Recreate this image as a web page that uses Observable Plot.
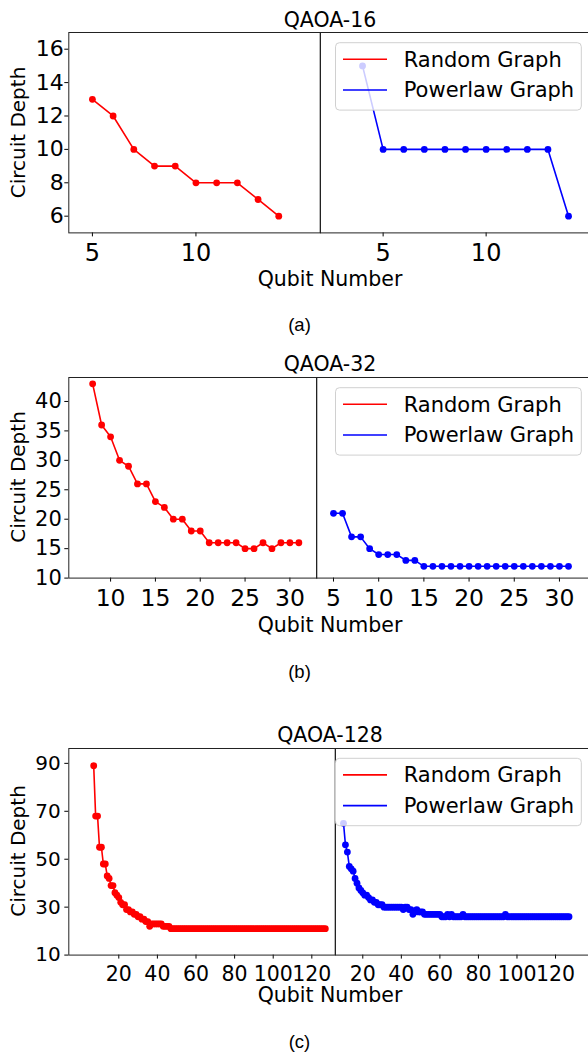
<!DOCTYPE html>
<html><head><meta charset="utf-8">
<script src="https://cdn.jsdelivr.net/npm/d3@7"></script>
<script src="https://cdn.jsdelivr.net/npm/@observablehq/plot@0.6"></script>
<style>
html,body{margin:0;padding:0;background:#fff;}
#page{position:relative;width:588px;height:1053px;overflow:hidden;background:#fff;}
#page svg{position:absolute;}
</style></head><body><div id="page"></div>
<script>
// ---------- DATA ----------
const seriesNames = ["Random Graph", "Powerlaw Graph"];
const seriesColors = ["#ff0000", "#0000ff"];

// (a) QAOA-16
const randA_qubits = [5, 6, 7, 8, 9, 10, 11, 12, 13, 14];
const randA_depth  = [13, 12, 10, 9, 9, 8, 8, 8, 7, 6];
const powA_qubits  = [4, 5, 6, 7, 8, 9, 10, 11, 12, 13, 14];
const powA_depth   = [15, 10, 10, 10, 10, 10, 10, 10, 10, 10, 6];

// (b) QAOA-32
const randB_qubits = d3.range(8, 32);
const randB_depth  = [43, 36, 34, 30, 29, 26, 26, 23, 22, 20, 20, 18, 18, 16, 16, 16, 16, 15, 15, 16, 15, 16, 16, 16];
const powB_qubits  = d3.range(5, 32);
const powB_depth   = [21, 21, 17, 17, 15, 14, 14, 14, 13, 13,
                      12, 12, 12, 12, 12, 12, 12, 12, 12, 12, 12, 12, 12, 12, 12, 12, 12];

// (c) QAOA-128
const randC_qubits = d3.range(7, 128);
const randC_depth  = [89, 68, 68,
  55, 55, 48, 48, 43, 42, 39, 39, 36, 35,
  34, 32, 31, 31, 29, 29, 28, 28, 27, 27,
  26, 26, 25, 25, 24, 24, 22, 23, 23, 23,
  23, 23, 23, 22, 22, 22, 22, 21, 21, 21,
  21, 21, 21, 21, 21, 21, 21, 21, 21, 21,
  21, 21, 21, 21, 21, 21, 21, 21, 21, 21,
  21, 21, 21, 21, 21, 21, 21, 21, 21, 21,
  21, 21, 21, 21, 21, 21, 21, 21, 21, 21,
  21, 21, 21, 21, 21, 21, 21, 21, 21, 21,
  21, 21, 21, 21, 21, 21, 21, 21, 21, 21,
  21, 21, 21, 21, 21, 21, 21, 21, 21, 21,
  21, 21, 21, 21, 21, 21, 21, 21];
const powC_qubits  = d3.range(10, 128);
const powC_depth   = [65, 56, 53, 47, 46, 45, 42, 40, 38, 37,
  36, 35, 35, 34, 33, 33, 32, 32, 31, 31,
  31, 30, 30, 30, 30, 30, 30, 30, 30, 30,
  30, 29, 30, 30, 29, 29, 27, 28, 29, 28,
  28, 28, 27, 27, 27, 27, 27, 27, 27, 27,
  27, 26, 26, 26, 27, 26, 27, 26, 26, 26,
  26, 26, 27, 26, 26, 26, 26, 26, 26, 26,
  26, 26, 26, 26, 26, 26, 26, 26, 26, 26,
  26, 26, 26, 26, 27, 26, 26, 26, 26, 26,
  26, 26, 26, 26, 26, 26, 26, 26, 26, 26,
  26, 26, 26, 26, 26, 26, 26, 26, 26, 26,
  26, 26, 26, 26, 26, 26, 26, 26];

const titles   = ["QAOA-16", "QAOA-32", "QAOA-128"];
const captions = ["(a)", "(b)", "(c)"];
const yTicksA = [6, 8, 10, 12, 14, 16];
const yTicksB = [10, 15, 20, 25, 30, 35, 40];
const yTicksC = [10, 30, 50, 70, 90];
const xTicksA = [5, 10];
const xTicksBL = [10, 15, 20, 25, 30];
const xTicksBR = [5, 10, 15, 20, 25, 30];
const xTicksC = [20, 40, 60, 80, 100, 120];

// ---------- LAYOUT ----------
const panels = [
  {title: titles[0], caption: captions[0], top: 32.3, bottom: 232.7, yDomain: [5, 17], yTicks: yTicksA,
   yFont: 22, xFont: 24, yPad: 1, titleY: 26.5, xLabelY: 286, captionY: 331.2, legendTop: 42.7,
   left:  {x0: 68.3,  x1: 319.7, domain: [3.86, 16.0], ticks: xTicksA, xs: randA_qubits, ys: randA_depth},
   right: {x0: 319.7, x1: 590,   domain: [1.96, 15.08], ticks: xTicksA, xs: powA_qubits, ys: powA_depth}},
  {title: titles[1], caption: captions[1], top: 376.7, bottom: 577.3, yDomain: [10, 44.07], yTicks: yTicksB,
   yFont: 21, xFont: 23.5, yPad: 3, titleY: 370.5, xLabelY: 631.5, captionY: 677.7, legendTop: 387.7,
   left:  {x0: 68.3,  x1: 316.3, domain: [5.34, 33.0], ticks: xTicksBL, xs: randB_qubits, ys: randB_depth},
   right: {x0: 316.3, x1: 590,   domain: [3.12, 33.4], ticks: xTicksBR, xs: powB_qubits, ys: powB_depth}},
  {title: titles[2], caption: captions[2], top: 747.7, bottom: 954.3, yDomain: [10, 96.2], yTicks: yTicksC,
   yFont: 20, xFont: 20.5, yPad: 4, titleY: 741.5, xLabelY: 1002, captionY: 1047.8, legendTop: 758.3,
   left:  {x0: 68.3,  x1: 334.7, domain: [-5.9, 132.1], ticks: xTicksC, xs: randC_qubits, ys: randC_depth},
   right: {x0: 334.7, x1: 590,   domain: [5.84, 138.3], ticks: xTicksC, xs: powC_qubits, ys: powC_depth}}
];

const page = document.getElementById("page");

function subplot(p, s, color, withY) {
  const mt = 12, mb = 50, mr = 10;
  const ml = withY ? s.x0 : 10;
  const data = s.xs.map((x, i) => ({x, y: s.ys[i]}));
  const svg = Plot.plot({
    width: (s.x1 - s.x0) + ml + mr,
    height: (p.bottom - p.top) + mt + mb,
    marginTop: mt, marginBottom: mb, marginLeft: ml, marginRight: mr,
    style: {background: "transparent", overflow: "visible", fontFamily: "DejaVu Sans", color: "#000"},
    x: {domain: s.domain},
    y: {domain: p.yDomain, axis: withY ? undefined : null},
    marks: [
      withY ? Plot.axisY({ticks: p.yTicks, tickSize: 4, tickPadding: p.yPad, fontSize: p.yFont, label: null}) : null,
      Plot.axisX({ticks: s.ticks, tickSize: 4, tickPadding: 7, fontSize: p.xFont, label: null}),
      Plot.line(data, {x: "x", y: "y", stroke: color, strokeWidth: 1.6}),
      Plot.dot(data, {x: "x", y: "y", r: 3.4, fill: color, stroke: "none"}),
      Plot.frame({stroke: "#222", strokeWidth: 1})
    ]
  });
  svg.style.left = (withY ? 0 : s.x0 - ml) + "px";
  svg.style.top = (p.top - mt) + "px";
  page.appendChild(svg);
}

panels.forEach(p => {
  subplot(p, p.left, seriesColors[0], true);
  subplot(p, p.right, seriesColors[1], false);
});

// ---------- TEXT / LEGEND OVERLAY ----------
const ov = d3.select(page).append("svg")
  .attr("width", 588).attr("height", 1053)
  .style("left", "0px").style("top", "0px")
  .style("pointer-events", "none");

panels.forEach(p => {
  ov.append("text").attr("x", 330).attr("y", p.titleY)
    .attr("text-anchor", "middle").attr("font-family", "DejaVu Sans").attr("font-size", 20.5)
    .attr("fill", "#000").text(p.title);
  ov.append("text").attr("x", 330).attr("y", p.xLabelY)
    .attr("text-anchor", "middle").attr("font-family", "DejaVu Sans").attr("font-size", 20.5)
    .attr("fill", "#000").text("Qubit Number");
  ov.append("text")
    .attr("transform", `translate(24.5,${(p.top + p.bottom) / 2}) rotate(-90)`)
    .attr("text-anchor", "middle").attr("font-family", "DejaVu Sans").attr("font-size", 20)
    .attr("fill", "#000").text("Circuit Depth");
  ov.append("text").attr("x", 299.5).attr("y", p.captionY)
    .attr("text-anchor", "middle").attr("font-family", "Liberation Sans, Arial, sans-serif").attr("font-size", 18.5)
    .attr("fill", "#000").text(p.caption);

  const g = ov.append("g").attr("transform", `translate(335.5,${p.legendTop})`);
  g.append("rect").attr("x", 0).attr("y", 0).attr("width", 245.8).attr("height", 67.4).attr("rx", 4)
    .attr("fill", "#fff").attr("fill-opacity", 0.8).attr("stroke", "#d0d0d0").attr("stroke-width", 1);
  seriesNames.forEach((name, i) => {
    const yy = 16.6 + i * 30.7;
    g.append("line").attr("x1", 7.5).attr("x2", 51.5).attr("y1", yy).attr("y2", yy)
      .attr("stroke", seriesColors[i]).attr("stroke-width", 1.6);
    g.append("text").attr("x", 68.2).attr("y", yy + 7.5)
      .attr("font-family", "DejaVu Sans").attr("font-size", 21).attr("fill", "#000").text(name);
  });
});
</script></body></html>
